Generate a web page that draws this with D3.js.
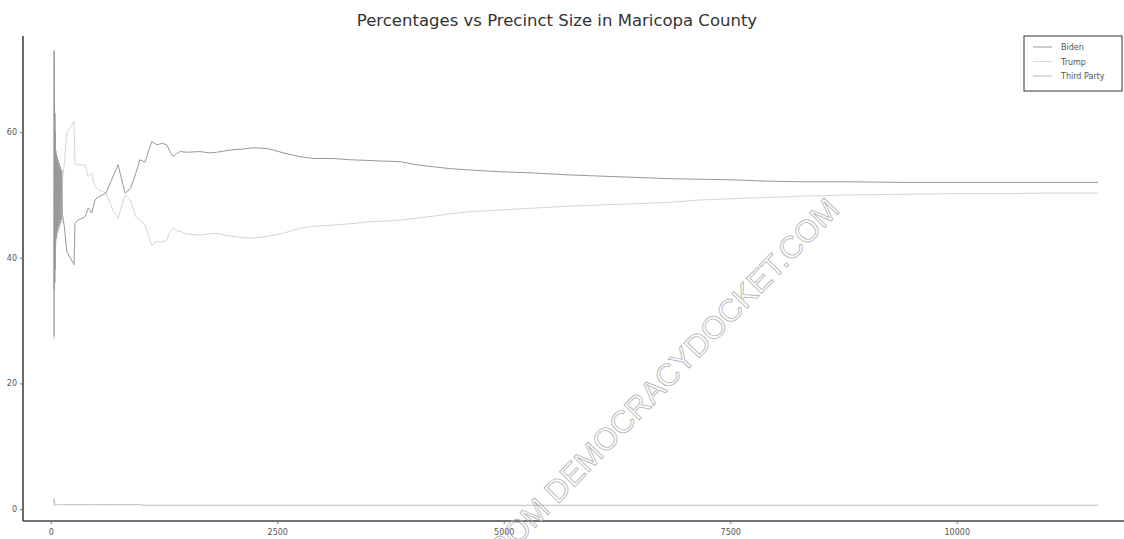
<!DOCTYPE html>
<html>
<head>
<meta charset="utf-8">
<script src="https://cdn.jsdelivr.net/npm/d3@7"></script>
<style>
  body { margin: 0; background: #fff; }
  #chart { width: 1124px; height: 539px; }
</style>
</head>
<body>
<div id="chart"></div>
<script>
// precinct size (x) shared by the three series
const precinctSize = [
  36, 38, 40, 42, 44, 46, 48, 50, 53, 56,
  60, 64, 68, 72, 77, 82, 88, 94, 100, 107,
  114, 121, 128, 150, 177, 257, 268, 300, 379, 415,
  452, 488, 530, 610, 690, 743, 820, 880, 940, 986,
  1041, 1080, 1115, 1170, 1230, 1280, 1317, 1350, 1390, 1427,
  1500, 1648, 1750, 1832, 1920, 2012, 2120, 2233, 2384, 2470,
  2564, 2751, 2900, 3116, 3300, 3488, 3650, 3855, 4040, 4216,
  4400, 4592, 4950, 5323, 5700, 6063, 6450, 6799, 7167, 7531,
  7903, 8270, 8800, 9374, 9900, 10478, 11000, 11560
];

const biden = [
  27.5, 73, 35, 64.8, 36, 63, 38, 60, 41, 57,
  43, 56.5, 44, 56, 44.5, 55.5, 45, 55, 45.5, 54.5,
  46, 54, 47, 45, 41, 38.9, 45.5, 46, 46.5, 47.9,
  47.1, 49.2, 49.7, 50.3, 53, 54.8, 50.3, 51, 53.5, 55.6,
  55.2, 57, 58.5, 58, 58.2, 58, 56.9, 56.1, 56.6, 56.9,
  56.8, 56.9, 56.7, 56.8, 57, 57.2, 57.3, 57.5, 57.4, 57.1,
  56.7, 56.1, 55.8, 55.8, 55.6, 55.5, 55.4, 55.3, 54.8, 54.5,
  54.2, 54, 53.7, 53.5, 53.2, 53, 52.8, 52.6, 52.5, 52.4,
  52.2, 52.1, 52.1, 52.0, 52.0, 52.0, 52.0, 52.0
];

const trump = [
  72, 27, 64, 34.5, 63, 36, 61, 39, 58, 42,
  56, 43, 55, 43.5, 54.5, 44, 54, 44.5, 53.5, 45,
  53, 45.5, 52, 55, 59.9, 61.7, 55, 54.8, 54.8, 52.9,
  53.5, 51.3, 50.8, 50.3, 47.5, 46.3, 50, 49.2, 46.5, 46,
  45.2, 43.5, 42, 42.6, 42.5, 42.8, 44.2, 44.7, 44.3, 44.2,
  43.8, 43.6, 43.8, 43.9, 43.6, 43.4, 43.2, 43.1, 43.4, 43.6,
  43.9, 44.7, 45, 45.2, 45.4, 45.7, 45.8, 46, 46.3, 46.6,
  47, 47.3, 47.6, 47.9, 48.2, 48.4, 48.6, 48.8, 49.2, 49.4,
  49.6, 49.8, 50, 50.1, 50.2, 50.2, 50.3, 50.3
];

const thirdParty = [
  0.5, 1.7, 1.3, 1.0, 0.9, 0.8, 0.8, 0.7, 0.7, 0.7,
  0.7, 0.7, 0.7, 0.7, 0.7, 0.7, 0.7, 0.7, 0.7, 0.7,
  0.7, 0.7, 0.7, 0.7, 0.7, 0.7, 0.7, 0.7, 0.7, 0.7,
  0.7, 0.7, 0.7, 0.7, 0.7, 0.7, 0.7, 0.7, 0.7, 0.7,
  0.6, 0.6, 0.6, 0.6, 0.6, 0.6, 0.6, 0.6, 0.6, 0.6,
  0.6, 0.6, 0.6, 0.6, 0.6, 0.6, 0.6, 0.6, 0.6, 0.6,
  0.6, 0.6, 0.6, 0.6, 0.6, 0.6, 0.6, 0.6, 0.6, 0.6,
  0.6, 0.6, 0.6, 0.6, 0.6, 0.6, 0.6, 0.6, 0.6, 0.6,
  0.6, 0.6, 0.6, 0.6, 0.6, 0.6, 0.6, 0.6
];

const seriesNames = ["Biden", "Trump", "Third Party"];
const xTicks = [0, 2500, 5000, 7500, 10000];
const yTicks = [0, 20, 40, 60];

const width = 1124, height = 539;
const svg = d3.select("#chart").append("svg")
  .attr("width", width)
  .attr("height", height)
  .style("font-family", "DejaVu Sans, sans-serif");

// scales (left spine at 23px, bottom spine at 521px)
const xScale = d3.scaleLinear().domain([-306, 11846]).range([23, 1124]);
const yScale = d3.scaleLinear().domain([-1.9, 75.3]).range([521, 36]);

const colors = { "Biden": "#999999", "Trump": "#d6d6d6", "Third Party": "#bcbcbc" };
const series = {
  "Biden": biden,
  "Trump": trump,
  "Third Party": thirdParty
};

// lines
const line = d3.line()
  .x(d => xScale(d[0]))
  .y(d => yScale(d[1]));

["Trump", "Third Party", "Biden"].forEach(name => {
  const pts = precinctSize.map((s, i) => [s, series[name][i]]);
  svg.append("path")
    .datum(pts)
    .attr("fill", "none")
    .attr("stroke", colors[name])
    .attr("stroke-width", 1)
    .attr("d", line);
});

// axes
const xAxis = d3.axisBottom(xScale).tickValues(xTicks).tickFormat(d3.format("d")).tickSize(3).tickPadding(5);
const yAxis = d3.axisLeft(yScale).tickValues(yTicks).tickFormat(d3.format("d")).tickSize(3).tickPadding(3);

const gx = svg.append("g")
  .attr("transform", `translate(0,${yScale.range()[0]})`)
  .call(xAxis);
const gy = svg.append("g")
  .attr("transform", `translate(${xScale.range()[0]},0)`)
  .call(yAxis);

[gx, gy].forEach(g => {
  g.select(".domain").attr("stroke", "#444").attr("stroke-width", 1.6);
  g.selectAll(".tick line").attr("stroke", "#777");
  g.selectAll(".tick text")
    .attr("fill", "#555")
    .style("font-size", "8px")
    .style("font-family", "DejaVu Sans, sans-serif");
});
gx.select(".domain").attr("d", `M${xScale.range()[0]},0H${xScale.range()[1]}`);
gy.select(".domain").attr("d", `M0,${yScale.range()[0]}V${yScale.range()[1]}`);

// title
svg.append("text")
  .attr("x", 557)
  .attr("y", 26)
  .attr("text-anchor", "middle")
  .attr("fill", "#333")
  .style("font-size", "16.5px")
  .text("Percentages vs Precinct Size in Maricopa County");

// legend
const legend = svg.append("g").attr("transform", "translate(1024,36)");
legend.append("rect")
  .attr("width", 98).attr("height", 55)
  .attr("fill", "#fff")
  .attr("stroke", "#333").attr("stroke-width", 1);
seriesNames.forEach((name, i) => {
  const y = 11 + i * 14.5;
  legend.append("line")
    .attr("x1", 9).attr("x2", 28).attr("y1", y).attr("y2", y)
    .attr("stroke", colors[name]).attr("stroke-width", 1);
  legend.append("text")
    .attr("x", 37).attr("y", y + 3)
    .attr("fill", "#555")
    .style("font-size", "8px")
    .text(name);
});

// watermark (cut off at the lower edge, as in the scan)
svg.append("text")
  .attr("transform", "translate(841,211) rotate(-46)")
  .attr("text-anchor", "end")
  .attr("fill", "none")
  .attr("stroke", "#b0b0b0")
  .attr("stroke-width", 0.8)
  .style("font-family", "Liberation Sans, Arial, sans-serif")
  .style("font-size", "31px")
  .text("RETRIEVED FROM DEMOCRACYDOCKET.COM");
</script>
</body>
</html>
